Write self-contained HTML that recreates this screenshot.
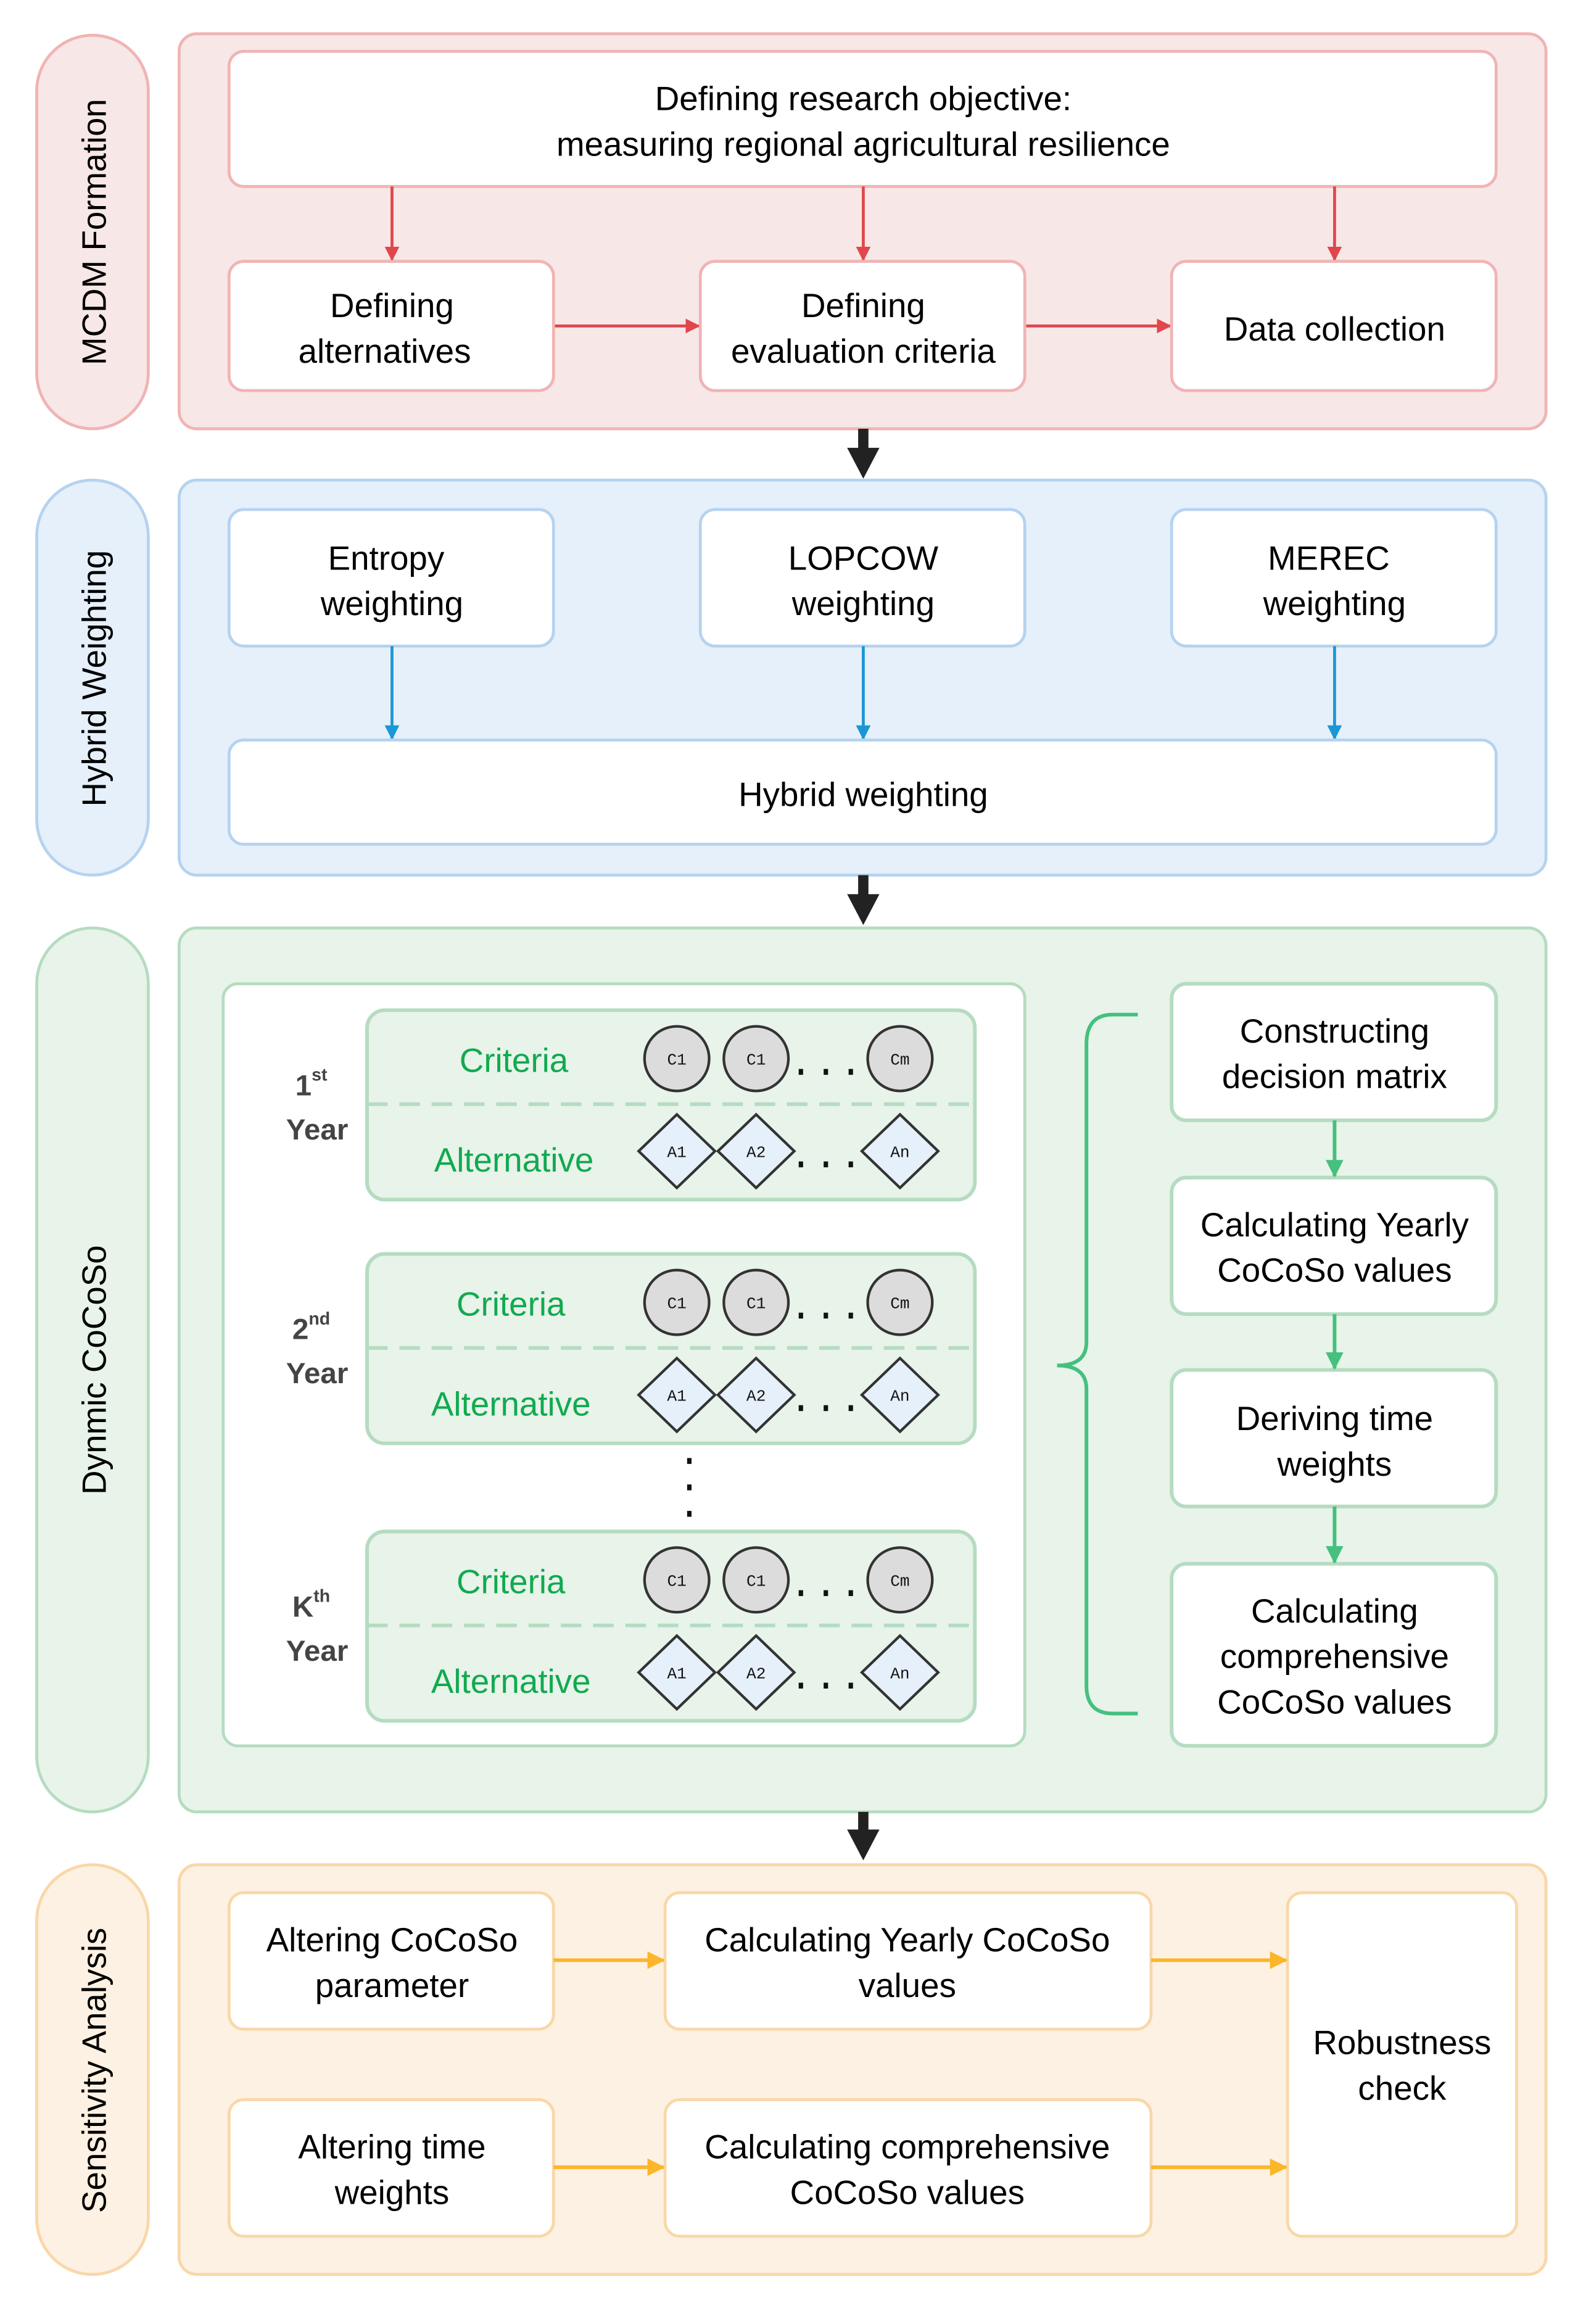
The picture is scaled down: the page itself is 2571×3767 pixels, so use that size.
<!DOCTYPE html>
<html><head><meta charset="utf-8"><style>html,body{margin:0;padding:0;background:#fff}svg{display:block}</style></head><body>
<svg width="2571" height="3767" viewBox="0 0 1080.25 1582.77" xmlns="http://www.w3.org/2000/svg" font-family="'Liberation Sans', sans-serif">
<defs>
<marker id="ar" markerWidth="10" markerHeight="10" refX="9" refY="5" orient="auto" markerUnits="userSpaceOnUse"><path d="M0,0 L10,5 L0,10 z" fill="#e0474c"/></marker>
<marker id="ab" markerWidth="10" markerHeight="10" refX="9" refY="5" orient="auto" markerUnits="userSpaceOnUse"><path d="M0,0 L10,5 L0,10 z" fill="#1a97d5"/></marker>
<marker id="ag" markerWidth="12" markerHeight="12" refX="11" refY="6" orient="auto" markerUnits="userSpaceOnUse"><path d="M0,0 L12,6 L0,12 z" fill="#45c07e"/></marker>
<marker id="ao" markerWidth="12" markerHeight="12" refX="11" refY="6" orient="auto" markerUnits="userSpaceOnUse"><path d="M0,0 L12,6 L0,12 z" fill="#fbb62a"/></marker>
</defs>
<g font-size="23" text-anchor="middle" fill="#000">
<!-- Section 1 -->
<rect x="25" y="24" width="76" height="268" rx="38" fill="#f8e7e7" stroke="#f0b4b4" stroke-width="2"/>
<text transform="translate(72,158) rotate(-90)" font-size="23">MCDM Formation</text>
<rect x="122" y="23" width="931" height="269" rx="12" fill="#f8e7e7" stroke="#f0b4b4" stroke-width="2"/>
<rect x="156" y="35" width="863" height="92" rx="10" fill="#fff" stroke="#f0b4b4" stroke-width="2"/>
<text x="588" y="75">Defining research objective:</text>
<text x="588" y="106">measuring regional agricultural resilience</text>
<g stroke="#e0474c" stroke-width="2">
<line x1="267" y1="127" x2="267" y2="177" marker-end="url(#ar)"/>
<line x1="588" y1="127" x2="588" y2="177" marker-end="url(#ar)"/>
<line x1="909" y1="127" x2="909" y2="177" marker-end="url(#ar)"/>
<line x1="377" y1="222" x2="476" y2="222" marker-end="url(#ar)"/>
<line x1="698" y1="222" x2="797" y2="222" marker-end="url(#ar)"/>
</g>
<rect x="156" y="178" width="221" height="88" rx="10" fill="#fff" stroke="#f0b4b4" stroke-width="2"/>
<rect x="477" y="178" width="221" height="88" rx="10" fill="#fff" stroke="#f0b4b4" stroke-width="2"/>
<rect x="798" y="178" width="221" height="88" rx="10" fill="#fff" stroke="#f0b4b4" stroke-width="2"/>
<text x="267" y="216">Defining</text><text x="262" y="247">alternatives</text>
<text x="588" y="216">Defining</text><text x="588" y="247">evaluation criteria</text>
<text x="909" y="232">Data collection</text>
<path d="M588 292 V310" stroke="#222" stroke-width="7"/><path d="M577 305 L599 305 L588 326 z" fill="#222"/>
<!-- Section 2 -->
<rect x="25" y="327" width="76" height="269" rx="38" fill="#e6f0fa" stroke="#b5d3f0" stroke-width="2"/>
<text transform="translate(72,462) rotate(-90)">Hybrid Weighting</text>
<rect x="122" y="327" width="931" height="269" rx="12" fill="#e6f0fa" stroke="#b5d3f0" stroke-width="2"/>
<rect x="156" y="347" width="221" height="93" rx="10" fill="#fff" stroke="#b5d3f0" stroke-width="2"/>
<rect x="477" y="347" width="221" height="93" rx="10" fill="#fff" stroke="#b5d3f0" stroke-width="2"/>
<rect x="798" y="347" width="221" height="93" rx="10" fill="#fff" stroke="#b5d3f0" stroke-width="2"/>
<text x="263" y="388">Entropy</text><text x="267" y="419">weighting</text>
<text x="588" y="388">LOPCOW</text><text x="588" y="419">weighting</text>
<text x="905" y="388">MEREC</text><text x="909" y="419">weighting</text>
<g stroke="#1a97d5" stroke-width="2">
<line x1="267" y1="440" x2="267" y2="503" marker-end="url(#ab)"/>
<line x1="588" y1="440" x2="588" y2="503" marker-end="url(#ab)"/>
<line x1="909" y1="440" x2="909" y2="503" marker-end="url(#ab)"/>
</g>
<rect x="156" y="504" width="863" height="71" rx="10" fill="#fff" stroke="#b5d3f0" stroke-width="2"/>
<text x="588" y="549">Hybrid weighting</text>
<path d="M588 596 V614" stroke="#222" stroke-width="7"/><path d="M577 609 L599 609 L588 630 z" fill="#222"/>
<!-- Section 3 -->
<rect x="25" y="632" width="76" height="602" rx="38" fill="#e8f3ea" stroke="#b5dcc0" stroke-width="2"/>
<text transform="translate(72,933) rotate(-90)">Dynmic CoCoSo</text>
<rect x="122" y="632" width="931" height="602" rx="12" fill="#e8f3ea" stroke="#b5dcc0" stroke-width="2"/>
<rect x="152" y="670" width="546" height="519" rx="10" fill="#fff" stroke="#b5dcc0" stroke-width="2"/>
<g id="yr">
</g>
<!-- year panels -->
<g>
<rect x="250" y="688" width="414" height="129" rx="12" fill="#e8f3ea" stroke="#b5dcc0" stroke-width="2.5"/>
<line x1="250" y1="752" x2="664" y2="752" stroke="#b5dcc0" stroke-width="2.5" stroke-dasharray="14,8"/>
<rect x="250" y="854" width="414" height="129" rx="12" fill="#e8f3ea" stroke="#b5dcc0" stroke-width="2.5"/>
<line x1="250" y1="918" x2="664" y2="918" stroke="#b5dcc0" stroke-width="2.5" stroke-dasharray="14,8"/>
<rect x="250" y="1043" width="414" height="129" rx="12" fill="#e8f3ea" stroke="#b5dcc0" stroke-width="2.5"/>
<line x1="250" y1="1107" x2="664" y2="1107" stroke="#b5dcc0" stroke-width="2.5" stroke-dasharray="14,8"/>
</g>
<g fill="#11aa4f">
<text x="350" y="730">Criteria</text><text x="350" y="798">Alternative</text>
<text x="348" y="896">Criteria</text><text x="348" y="964">Alternative</text>
<text x="348" y="1085">Criteria</text><text x="348" y="1153">Alternative</text>
</g>
<g font-weight="bold" fill="#444" font-size="20">
<text x="212" y="746">1<tspan font-size="12" dy="-10">st</tspan></text><text x="216" y="776">Year</text>
<text x="212" y="912">2<tspan font-size="12" dy="-10">nd</tspan></text><text x="216" y="942">Year</text>
<text x="212" y="1101">K<tspan font-size="12" dy="-10">th</tspan></text><text x="216" y="1131">Year</text>
</g>
<g stroke="#333" stroke-width="1.8" font-size="11">
<g transform="translate(0,0)">
<circle cx="461" cy="721" r="22" fill="#dcdcdc"/><circle cx="515" cy="721" r="22" fill="#dcdcdc"/><circle cx="613" cy="721" r="22" fill="#dcdcdc"/>
<path d="M461 759 L487 784 L461 809 L435 784 z M515 759 L541 784 L515 809 L489 784 z M613 759 L639 784 L613 809 L587 784 z" fill="#e6f0fa"/>
</g>
<g transform="translate(0,166)">
<circle cx="461" cy="721" r="22" fill="#dcdcdc"/><circle cx="515" cy="721" r="22" fill="#dcdcdc"/><circle cx="613" cy="721" r="22" fill="#dcdcdc"/>
<path d="M461 759 L487 784 L461 809 L435 784 z M515 759 L541 784 L515 809 L489 784 z M613 759 L639 784 L613 809 L587 784 z" fill="#e6f0fa"/>
</g>
<g transform="translate(0,355)">
<circle cx="461" cy="721" r="22" fill="#dcdcdc"/><circle cx="515" cy="721" r="22" fill="#dcdcdc"/><circle cx="613" cy="721" r="22" fill="#dcdcdc"/>
<path d="M461 759 L487 784 L461 809 L435 784 z M515 759 L541 784 L515 809 L489 784 z M613 759 L639 784 L613 809 L587 784 z" fill="#e6f0fa"/>
</g>
</g>
<g font-size="11" fill="#111" font-family="'Liberation Mono', monospace">
<text x="461" y="725">C1</text><text x="515" y="725">C1</text><text x="613" y="725">Cm</text>
<text x="461" y="788">A1</text><text x="515" y="788">A2</text><text x="613" y="788">An</text>
<text x="461" y="891">C1</text><text x="515" y="891">C1</text><text x="613" y="891">Cm</text>
<text x="461" y="954">A1</text><text x="515" y="954">A2</text><text x="613" y="954">An</text>
<text x="461" y="1080">C1</text><text x="515" y="1080">C1</text><text x="613" y="1080">Cm</text>
<text x="461" y="1143">A1</text><text x="515" y="1143">A2</text><text x="613" y="1143">An</text>
</g>
<g fill="#111">
<rect x="544" y="728" width="3" height="4"/><rect x="561" y="728" width="3" height="4"/><rect x="578" y="728" width="3" height="4"/>
<rect x="544" y="791" width="3" height="4"/><rect x="561" y="791" width="3" height="4"/><rect x="578" y="791" width="3" height="4"/>
<rect x="544" y="894" width="3" height="4"/><rect x="561" y="894" width="3" height="4"/><rect x="578" y="894" width="3" height="4"/>
<rect x="544" y="957" width="3" height="4"/><rect x="561" y="957" width="3" height="4"/><rect x="578" y="957" width="3" height="4"/>
<rect x="544" y="1083" width="3" height="4"/><rect x="561" y="1083" width="3" height="4"/><rect x="578" y="1083" width="3" height="4"/>
<rect x="544" y="1146" width="3" height="4"/><rect x="561" y="1146" width="3" height="4"/><rect x="578" y="1146" width="3" height="4"/>
<rect x="468" y="993" width="3" height="4"/><rect x="468" y="1011" width="3" height="4"/><rect x="468" y="1029" width="3" height="4"/>
</g>
<path d="M775 691 H758 Q740 691 740 711 V914 Q740 930 720 930 Q740 930 740 946 V1148 Q740 1167 758 1167 H775" fill="none" stroke="#45c07e" stroke-width="2.5"/>
<g fill="#fff" stroke="#b5dcc0" stroke-width="2.5">
<rect x="798" y="670" width="221" height="93" rx="10"/>
<rect x="798" y="802" width="221" height="93" rx="10"/>
<rect x="798" y="933" width="221" height="93" rx="10"/>
<rect x="798" y="1065" width="221" height="124" rx="10"/>
</g>
<g stroke="#45c07e" stroke-width="2.5">
<line x1="909" y1="763" x2="909" y2="801" marker-end="url(#ag)"/>
<line x1="909" y1="895" x2="909" y2="932" marker-end="url(#ag)"/>
<line x1="909" y1="1026" x2="909" y2="1064" marker-end="url(#ag)"/>
</g>
<text x="909" y="710">Constructing</text><text x="909" y="741">decision matrix</text>
<text x="909" y="842">Calculating Yearly</text><text x="909" y="873">CoCoSo values</text>
<text x="909" y="974">Deriving time</text><text x="909" y="1005">weights</text>
<text x="909" y="1105">Calculating</text><text x="909" y="1136">comprehensive</text><text x="909" y="1167">CoCoSo values</text>
<path d="M588 1234 V1251" stroke="#222" stroke-width="7"/><path d="M577 1246 L599 1246 L588 1267 z" fill="#222"/>
<!-- Section 4 -->
<rect x="25" y="1270" width="76" height="279" rx="38" fill="#fdf1e3" stroke="#f9d7a8" stroke-width="2"/>
<text transform="translate(72,1410) rotate(-90)">Sensitivity Analysis</text>
<rect x="122" y="1270" width="931" height="279" rx="12" fill="#fdf1e3" stroke="#f9d7a8" stroke-width="2"/>
<g fill="#fff" stroke="#f9d7a8" stroke-width="2">
<rect x="156" y="1289" width="221" height="93" rx="10"/>
<rect x="156" y="1430" width="221" height="93" rx="10"/>
<rect x="453" y="1289" width="331" height="93" rx="10"/>
<rect x="453" y="1430" width="331" height="93" rx="10"/>
<rect x="877" y="1289" width="156" height="234" rx="10"/>
</g>
<g stroke="#fbb62a" stroke-width="2.5">
<line x1="377" y1="1335" x2="452" y2="1335" marker-end="url(#ao)"/>
<line x1="377" y1="1476" x2="452" y2="1476" marker-end="url(#ao)"/>
<line x1="784" y1="1335" x2="876" y2="1335" marker-end="url(#ao)"/>
<line x1="784" y1="1476" x2="876" y2="1476" marker-end="url(#ao)"/>
</g>
<text x="267" y="1329">Altering CoCoSo</text><text x="267" y="1360">parameter</text>
<text x="267" y="1470">Altering time</text><text x="267" y="1501">weights</text>
<text x="618" y="1329">Calculating Yearly CoCoSo</text><text x="618" y="1360">values</text>
<text x="618" y="1470">Calculating comprehensive</text><text x="618" y="1501">CoCoSo values</text>
<text x="955" y="1399">Robustness</text><text x="955" y="1430">check</text>
</g>
</svg>
</body></html>
